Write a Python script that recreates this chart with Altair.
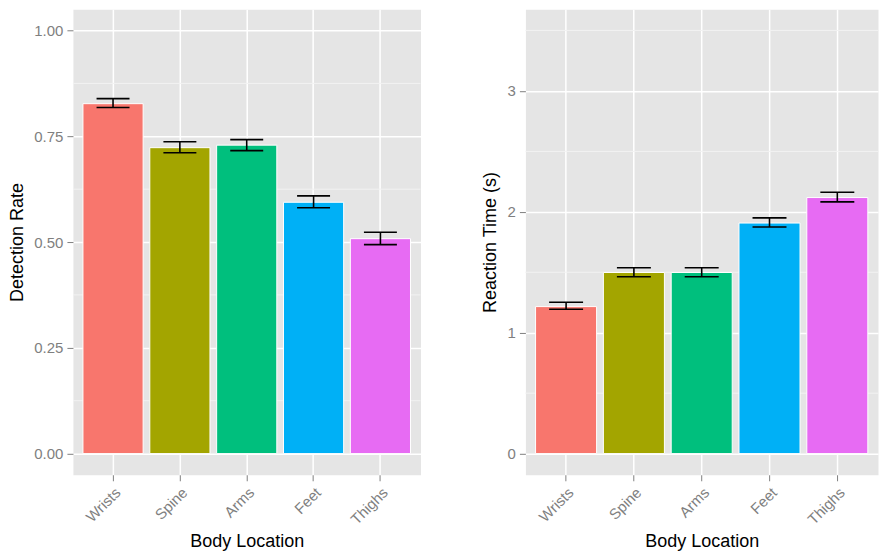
import altair as alt
import pandas as pd

locations = ["Wrists", "Spine", "Arms", "Feet", "Thighs"]
colors = ["#F8766D", "#A3A500", "#00BF7D", "#00B0F6", "#E76BF3"]

det_rate = [0.827, 0.723, 0.729, 0.594, 0.508]
det_lo = [0.818, 0.711, 0.716, 0.581, 0.494]
det_hi = [0.839, 0.737, 0.742, 0.609, 0.523]

rt_mean = [1.216, 1.498, 1.498, 1.907, 2.118]
rt_lo = [1.194, 1.463, 1.463, 1.874, 2.082]
rt_hi = [1.252, 1.537, 1.537, 1.950, 2.162]

det_ticks = [0.0, 0.25, 0.5, 0.75, 1.0]
det_minor = [0.125, 0.375, 0.625, 0.875]
rt_ticks = [0, 1, 2, 3]
rt_minor = [0.5, 1.5, 2.5, 3.5]

FONT = "Liberation Sans"
GREY = "#7F7F7F"


def panel(vals, lo, hi, minor, ticks, fmt, domain, ytitle, width, height, cap, tpad):
    df = pd.DataFrame({"loc": locations, "val": vals, "lo": lo, "hi": hi})
    yscale = alt.Scale(domain=domain, nice=False, zero=False)
    yaxis = alt.Axis(
        values=ticks,
        format=fmt,
        grid=True,
        gridColor="white",
        gridWidth=1.5,
        domain=False,
        tickColor=GREY,
        tickSize=6,
        tickWidth=1,
        labelColor=GREY,
        labelFontSize=15,
        labelFont=FONT,
        labelPadding=4,
        titleFont=FONT,
        titleFontSize=18,
        titleFontWeight="normal",
        titleColor="black",
        titlePadding=tpad,
    )
    xenc = alt.X(
        "loc:N",
        sort=locations,
        title="Body Location",
        scale=alt.Scale(paddingInner=0.1, paddingOuter=0.15),
        axis=alt.Axis(
            labelAngle=315,
            labelAlign="right",
            labelBaseline="top",
            bandPosition=0.5,
            grid=True,
            gridColor="white",
            gridWidth=1.5,
            domain=False,
            tickColor=GREY,
            tickSize=6,
            tickWidth=1,
            labelColor=GREY,
            labelFontSize=15,
            labelFont=FONT,
            labelPadding=4,
            titleFont=FONT,
            titleFontSize=18,
            titleFontWeight="normal",
            titleColor="black",
            titlePadding=5,
        ),
    )
    minor_layer = (
        alt.Chart(pd.DataFrame({"v": minor}))
        .mark_rule(color="#F2F2F2", strokeWidth=1)
        .encode(y=alt.Y("v:Q", scale=yscale, title=ytitle, axis=yaxis))
    )
    bars = (
        alt.Chart(df)
        .mark_bar(stroke="white", strokeWidth=1)
        .encode(
            x=xenc,
            y=alt.Y("val:Q", scale=yscale, title=ytitle, axis=yaxis),
            y2=alt.datum(0),
            color=alt.Color(
                "loc:N", scale=alt.Scale(domain=locations, range=colors), legend=None
            ),
        )
    )
    err = (
        alt.Chart(df)
        .mark_rule(color="black", strokeWidth=1.6)
        .encode(x=alt.X("loc:N", sort=locations), y=alt.Y("lo:Q", scale=yscale, title=ytitle), y2="hi:Q")
    )
    cap_lo = (
        alt.Chart(df)
        .mark_tick(color="black", thickness=1.6, size=cap, opacity=1)
        .encode(x=alt.X("loc:N", sort=locations), y=alt.Y("lo:Q", scale=yscale, title=ytitle))
    )
    cap_hi = (
        alt.Chart(df)
        .mark_tick(color="black", thickness=1.6, size=cap, opacity=1)
        .encode(x=alt.X("loc:N", sort=locations), y=alt.Y("hi:Q", scale=yscale, title=ytitle))
    )
    return alt.layer(minor_layer, bars, err, cap_lo, cap_hi).properties(
        width=width, height=height
    )


left = panel(det_rate, det_lo, det_hi, det_minor, det_ticks, ".2f",
             [-0.05, 1.05], "Detection Rate", 348, 466, 33, 7)
right = panel(rt_mean, rt_lo, rt_hi, rt_minor, rt_ticks, "d",
              [-0.175, 3.675], "Reaction Time (s)", 353, 466, 34, 8)

chart = (
    alt.hconcat(left, right, spacing=59)
    .properties(padding=0, background="white")
    .configure_view(fill="#E5E5E5", stroke="transparent")
)

chart.save("out.html", embed_options={"renderer": "svg", "actions": False})
